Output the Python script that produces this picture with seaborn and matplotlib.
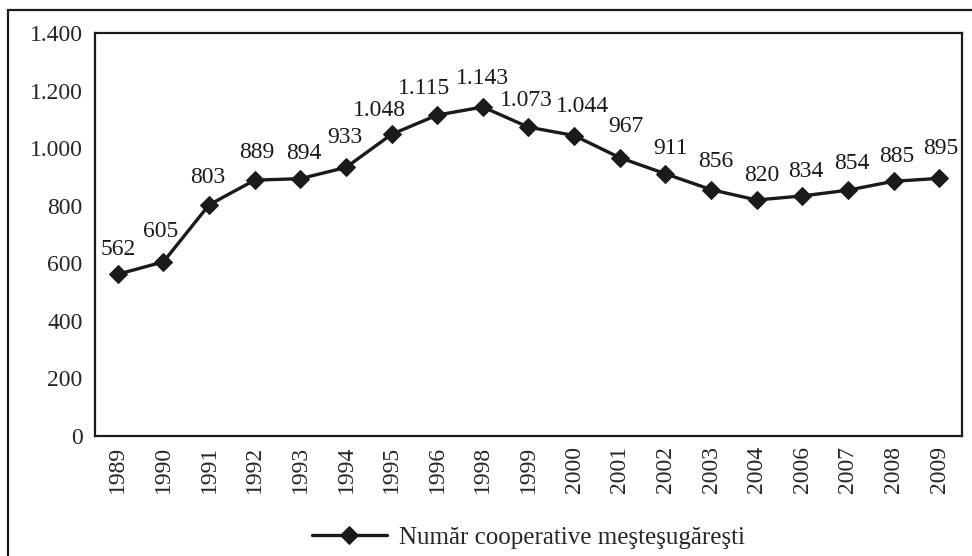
import matplotlib
matplotlib.use("Agg")
import matplotlib.pyplot as plt
import seaborn as sns
import pandas as pd
from matplotlib.patches import Rectangle

years = ["1989", "1990", "1991", "1992", "1993", "1994", "1995", "1996", "1998", "1999",
         "2000", "2001", "2002", "2003", "2004", "2006", "2007", "2008", "2009"]
counts = [562, 605, 803, 889, 894, 933, 1048, 1115, 1143, 1073,
          1044, 967, 911, 856, 820, 834, 854, 885, 895]
series_name = "Număr cooperative meşteşugăreşti"
y_ticks = [0, 200, 400, 600, 800, 1000, 1200, 1400]

# where the value labels sit relative to their point (pixels)
label_dx = [0, -3, -1, 2, 4, -1, -12, -13, 0, -2,
            8, 6, 5, 5, 5, 4, 4, 3, 2]
label_gap = [17, 23, 20, 20, 18, 22, 16, 19, 21, 19,
             22, 24, 18, 21, 17, 17, 19, 17, 22]


def fmt(v):
    # thousands separator as a dot
    return f"{v:,}".replace(",", ".")


df = pd.DataFrame({"An": years, "Numar": counts})

sns.set_style("white")
plt.rcParams["font.family"] = ["Liberation Serif", "DejaVu Serif"]
fs = 17
px = 72 / 100  # pixels -> points at dpi 100

fig = plt.figure(figsize=(9.72, 5.56), dpi=100)
ax = fig.add_axes([0.0977, 0.2158, 0.892, 0.7248])

sns.lineplot(data=df, x="An", y="Numar", ax=ax, color="#1a1a1a", linewidth=2.4,
             marker="D", markersize=9, markeredgecolor="#1a1a1a", sort=False,
             label=series_name)

for i, v in enumerate(counts):
    ax.annotate(fmt(v), (i, v),
                xytext=(label_dx[i] * px, (label_gap[i] - 3) * px),
                textcoords="offset points", ha="center", va="bottom",
                fontsize=fs, color="#1a1a1a")

ax.set_xlim(-0.5, len(years) - 0.5)
ax.set_ylim(0, 1400)
ax.set_yticks(y_ticks)
ax.set_yticklabels([fmt(t) for t in y_ticks])
ax.tick_params(axis="x", rotation=90, length=0, pad=7, labelsize=fs)
ax.tick_params(axis="y", length=0, pad=9, labelsize=fs)
ax.set_xlabel("")
ax.set_ylabel("")
for s in ax.spines.values():
    s.set_color("#1a1a1a")
    s.set_linewidth(1.6)

ax.legend(loc="center", bbox_to_anchor=(0.5, -0.253), frameon=False,
          fontsize=18, handlelength=3.0, handletextpad=0.5)

# outer frame around the whole chart
fig.patches.append(Rectangle((8 / 972, -0.05), 1.1, 1 - 10 / 556 + 0.05,
                             transform=fig.transFigure, fill=False,
                             edgecolor="#1a1a1a", linewidth=1.6))

fig.savefig("out.png", dpi=100)
